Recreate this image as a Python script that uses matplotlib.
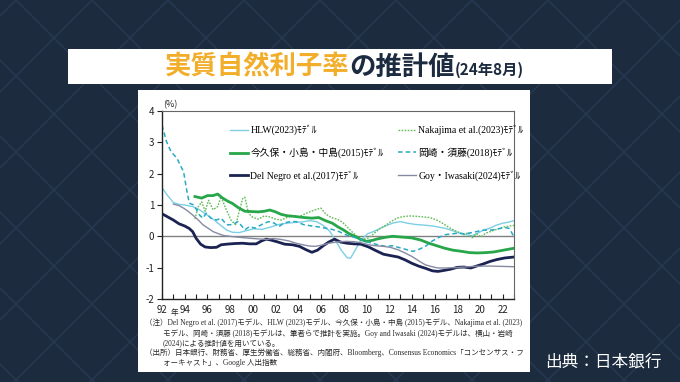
import matplotlib
matplotlib.use("Agg")
import matplotlib.pyplot as plt
from matplotlib.patches import Rectangle
from matplotlib.ticker import FixedLocator, NullFormatter

plt.rcParams['font.family'] = ['Noto Sans CJK JP', 'DejaVu Sans']
SERIF = ['Liberation Serif', 'Noto Sans CJK JP']

# --- data (% per year) ---
hlw_year = [1992.0, 1992.5, 1993.0, 1993.5, 1994.0, 1994.7, 1995.3, 1995.9, 1996.6, 1997.1,
            1997.7, 1998.2, 1998.8, 1999.4, 2000.1, 2000.8, 2001.6, 2002.3, 2003.0, 2003.6,
            2004.3, 2005.0, 2005.6, 2006.2, 2006.8, 2007.3, 2007.8, 2008.3, 2008.6, 2009.0,
            2009.5, 2010.1, 2010.6, 2011.2, 2011.8, 2012.4, 2013.0, 2013.6, 2014.3, 2015.0,
            2015.6, 2016.3, 2017.0, 2017.6, 2018.2, 2018.8, 2019.3, 2019.8, 2020.3, 2020.8,
            2021.4, 2022.0, 2022.5, 2023.0]
hlw_val = [1.55, 1.30, 1.08, 1.02, 1.00, 0.95, 0.85, 0.70, 0.52, 0.37,
           0.20, 0.13, 0.12, 0.18, 0.24, 0.22, 0.30, 0.38, 0.42, 0.44,
           0.46, 0.50, 0.47, 0.35, 0.15, -0.15, -0.45, -0.68, -0.70, -0.45,
           -0.13, 0.08, 0.15, 0.25, 0.35, 0.43, 0.47, 0.42, 0.38, 0.36,
           0.34, 0.30, 0.25, 0.18, 0.10, 0.05, 0.02, 0.10, 0.20, 0.25,
           0.35, 0.42, 0.45, 0.50]

nakajima_year = [1994.9, 1995.2, 1995.5, 1995.8, 1996.1, 1996.5, 1996.9, 1997.2, 1997.6, 1998.1,
                 1998.5, 1998.8, 1999.1, 1999.3, 1999.6, 2000.0, 2000.5, 2001.0, 2001.5, 2002.0,
                 2002.5, 2003.0, 2003.5, 2004.0, 2004.5, 2005.0, 2005.5, 2006.0, 2006.4, 2006.9,
                 2007.4, 2007.9, 2008.3, 2008.8, 2009.2, 2009.7, 2010.2, 2010.7, 2011.2, 2011.7,
                 2012.2, 2012.7, 2013.2, 2013.8, 2014.4, 2015.0, 2015.6, 2016.2, 2016.7, 2017.2,
                 2017.7, 2018.2, 2018.6, 2019.0, 2019.3, 2019.7, 2020.1, 2020.5, 2020.9, 2021.3,
                 2021.7, 2022.1, 2022.5, 2023.0]
nakajima_val = [0.55, 0.95, 1.10, 0.80, 1.15, 0.85, 0.95, 1.27, 0.90, 0.50,
                0.37, 0.80, 1.20, 1.25, 0.75, 0.60, 0.55, 0.65, 0.62, 0.55,
                0.52, 0.60, 0.65, 0.62, 0.70, 0.78, 0.85, 0.90, 0.72, 0.60,
                0.55, 0.45, 0.30, 0.12, 0.00, -0.10, -0.05, 0.10, 0.25, 0.35,
                0.48, 0.58, 0.63, 0.65, 0.64, 0.62, 0.60, 0.52, 0.42, 0.30,
                0.20, 0.12, 0.05, 0.12, -0.05, 0.08, -0.02, 0.10, 0.15, 0.20,
                0.25, 0.30, 0.32, 0.35]

imakubo_year = [1994.9, 1995.5, 1996.0, 1996.5, 1996.9, 1997.3, 1997.8, 1998.2, 1998.7, 1999.3,
                1999.9, 2000.5, 2001.0, 2001.5, 2002.0, 2002.5, 2003.0, 2003.8, 2004.5, 2005.2,
                2005.8, 2006.4, 2007.0, 2007.5, 2008.0, 2008.5, 2009.0, 2009.5, 2010.0, 2010.5,
                2011.0, 2011.7, 2012.3, 2013.0, 2014.0, 2014.8, 2015.5, 2016.2, 2016.9, 2017.6,
                2018.4, 2019.1, 2019.8, 2020.5, 2021.2, 2021.8, 2022.4, 2023.0]
imakubo_val = [1.27, 1.22, 1.30, 1.30, 1.35, 1.23, 1.12, 1.05, 0.92, 0.80,
               0.79, 0.78, 0.80, 0.84, 0.78, 0.70, 0.66, 0.63, 0.60, 0.58,
               0.60, 0.50, 0.42, 0.30, 0.20, 0.08, 0.00, -0.10, -0.16, -0.13,
               -0.08, -0.03, 0.00, -0.02, -0.05, -0.12, -0.22, -0.30, -0.38, -0.44,
               -0.48, -0.52, -0.53, -0.52, -0.50, -0.46, -0.42, -0.38]

okazaki_year = [1992.0, 1992.4, 1992.8, 1993.3, 1993.9, 1994.2, 1994.4, 1994.8, 1995.3, 1995.6,
                1995.9, 1996.3, 1996.8, 1997.2, 1997.7, 1998.2, 1998.7, 1999.3, 1999.7, 2000.2,
                2000.9, 2001.4, 2001.9, 2002.3, 2002.7, 2003.3, 2003.8, 2004.5, 2005.2, 2005.8,
                2006.4, 2007.0, 2007.6, 2008.2, 2008.8, 2009.4, 2009.9, 2010.5, 2011.0, 2011.7,
                2012.3, 2012.8, 2013.5, 2014.1, 2014.6, 2015.2, 2015.8, 2016.3, 2016.9, 2017.5,
                2018.1, 2018.7, 2019.3, 2019.8, 2020.4, 2021.0, 2021.6, 2022.2, 2022.6, 2023.0]
okazaki_val = [3.55, 3.02, 2.70, 2.50, 2.06, 1.43, 1.06, 1.00, 0.68, 0.58,
               0.74, 0.58, 0.52, 0.58, 0.37, 0.37, 0.47, 0.21, 0.31, 0.26,
               0.40, 0.47, 0.42, 0.31, 0.42, 0.47, 0.47, 0.37, 0.33, 0.30,
               0.26, 0.22, 0.15, 0.05, -0.02, -0.08, -0.16, -0.22, -0.27, -0.32,
               -0.30, -0.35, -0.42, -0.48, -0.42, -0.32, -0.15, -0.05, 0.05, 0.08,
               0.10, 0.08, 0.12, 0.16, 0.20, 0.20, 0.24, 0.28, 0.25, -0.02]

delnegro_year = [1992.0, 1992.5, 1993.0, 1993.5, 1994.0, 1994.4, 1994.7, 1995.0, 1995.4, 1995.8,
                 1996.3, 1996.8, 1997.2, 1997.7, 1998.4, 1999.1, 1999.7, 2000.3, 2000.8, 2001.2,
                 2001.6, 2002.2, 2002.8, 2003.5, 2004.1, 2004.7, 2005.2, 2005.7, 2006.2, 2006.7,
                 2007.2, 2007.7, 2008.3, 2008.9, 2009.5, 2010.2, 2010.8, 2011.5, 2012.2, 2012.8,
                 2013.4, 2014.0, 2014.6, 2015.2, 2015.8, 2016.3, 2016.8, 2017.4, 2018.0, 2018.6,
                 2019.2, 2019.7, 2020.3, 2020.9, 2021.5, 2022.2, 2023.0]
delnegro_val = [0.72, 0.62, 0.52, 0.40, 0.33, 0.25, 0.15, -0.06, -0.25, -0.34,
                -0.36, -0.35, -0.27, -0.25, -0.23, -0.22, -0.24, -0.24, -0.14, -0.09,
                -0.12, -0.18, -0.25, -0.27, -0.32, -0.43, -0.51, -0.44, -0.30, -0.18,
                -0.09, -0.18, -0.22, -0.24, -0.25, -0.34, -0.45, -0.57, -0.62, -0.66,
                -0.75, -0.86, -0.95, -1.02, -1.10, -1.12, -1.09, -1.05, -0.99, -0.98,
                -1.01, -0.95, -0.88, -0.80, -0.74, -0.69, -0.66]

goy_year = [1993.0, 1993.5, 1993.9, 1994.3, 1994.7, 1995.2, 1995.6, 1996.1, 1996.5, 1997.0,
            1997.4, 1998.0, 1998.5, 1999.1, 1999.7, 2000.4, 2001.2, 2001.8, 2002.5, 2003.2,
            2003.8, 2004.4, 2005.0, 2005.5, 2006.1, 2006.7, 2007.4, 2008.2, 2008.9, 2009.5,
            2010.2, 2010.8, 2011.5, 2012.1, 2012.8, 2013.4, 2014.0, 2014.6, 2015.2, 2015.8,
            2016.3, 2017.0, 2017.8, 2018.6, 2019.4, 2020.2, 2021.0, 2022.0, 2023.0]
goy_val = [1.03, 0.98, 0.90, 0.80, 0.68, 0.52, 0.37, 0.25, 0.15, 0.08,
           0.03, 0.00, -0.02, -0.04, -0.06, -0.08, -0.10, -0.07, -0.10, -0.15,
           -0.22, -0.27, -0.31, -0.32, -0.28, -0.22, -0.18, -0.16, -0.17, -0.20,
           -0.27, -0.30, -0.32, -0.35, -0.43, -0.53, -0.64, -0.78, -0.91, -0.97,
           -1.01, -1.01, -1.00, -0.98, -0.96, -0.95, -0.95, -0.96, -0.97]

x_tick_years = list(range(1992, 2023, 2))
x_tick_labels = ['92', '94', '96', '98', '00', '02', '04', '06', '08', '10',
                 '12', '14', '16', '18', '20', '22']
y_ticks = [-2, -1, 0, 1, 2, 3, 4]
y_tick_labels = ['-2', '-1', '0', '1', '2', '3', '4']

notes = [
    "（注）Del Negro et al. (2017)モデル、HLW (2023)モデル、今久保・小島・中島 (2015)モデル、Nakajima et al. (2023)",
    "モデル、岡崎・須藤 (2018)モデルは、筆者らで推計を実施。Goy and Iwasaki (2024)モデルは、横山・岩崎",
    "(2024)による推計値を用いている。",
    "（出所）日本銀行、財務省、厚生労働省、総務省、内閣府、Bloomberg、Consensus Economics「コンセンサス・フ",
    "ォーキャスト」、Google 人出指数",
]

W, H = 680, 382
fig = plt.figure(figsize=(W / 100, H / 100), dpi=100)
fig.patch.set_facecolor('#1c2b3e')

# background layer in pixel coordinates (diamond lattice)
bg = fig.add_axes([0, 0, 1, 1], zorder=0)
bg.set_xlim(0, W)
bg.set_ylim(H, 0)
bg.axis('off')
bg.set_facecolor('none')
for c in range(-440, 1140, 76):
    bg.plot([c, c + H], [0, H], color='#26384f', lw=1.3, zorder=0)
    bg.plot([c, c - H], [0, H], color='#26384f', lw=1.3, zorder=0)

# title box
bg.add_patch(Rectangle((68, 49), 544, 35, facecolor='white', edgecolor='none', zorder=1))
t1 = bg.text(165, 67, "実質自然利子率", fontsize=19, fontweight='bold', color='#f2ae2a',
             va='center', ha='left', zorder=2)
t2 = bg.annotate("の推計値", xy=(1, 0), xycoords=t1, fontsize=19, fontweight='bold',
                 color='#1c2b40', va='bottom', ha='left', zorder=2)
bg.annotate("(24年8月)", xy=(1, 0.08), xycoords=t2, fontsize=11, fontweight='bold',
            color='#1c2b40', va='bottom', ha='left', zorder=2)

# chart panel
bg.add_patch(Rectangle((138, 90), 392, 282, facecolor='white', edgecolor='none', zorder=1))
bg.text(163, 105, "(%)", fontsize=6.5, color='#222222', va='center', ha='left', zorder=2)
bg.text(174, 313, "年", fontsize=5.5, color='#222222', va='center', ha='center', zorder=2)

note_x = [145, 163, 163, 145, 163]
note_y = [323, 333.5, 343, 353, 363]
for tx, ty, s in zip(note_x, note_y, notes):
    bg.text(tx, ty, s, fontsize=5.45, family=SERIF, color='#2a2a2a',
            va='center', ha='left', zorder=2)

bg.text(545, 362, "出典：日本銀行", fontsize=12, color='white', va='center', ha='left', zorder=2)

# main chart
ax = fig.add_axes([162 / W, 1 - 299 / H, (514 - 162) / W, (299 - 111) / H], zorder=3)
ax.set_facecolor('none')

ax.axhline(0, color='#808080', lw=1.0, zorder=1)
l_hlw, = ax.plot(hlw_year, hlw_val, color='#7ccfe4', lw=1.0, label='HLW(2023)ﾓﾃﾞﾙ')
l_nak, = ax.plot(nakajima_year, nakajima_val, color='#62bb55', lw=1.0, ls=(0, (1.2, 1.0)),
                 label='Nakajima et al.(2023)ﾓﾃﾞﾙ')
l_ima, = ax.plot(imakubo_year, imakubo_val, color='#27a64a', lw=2.0,
                 label='今久保・小島・中島(2015)ﾓﾃﾞﾙ')
l_oka, = ax.plot(okazaki_year, okazaki_val, color='#27aac4', lw=1.1, ls=(0, (3, 2)),
                 label='岡崎・須藤(2018)ﾓﾃﾞﾙ')
l_del, = ax.plot(delnegro_year, delnegro_val, color='#1b2352', lw=2.0,
                 label='Del Negro et al.(2017)ﾓﾃﾞﾙ')
l_goy, = ax.plot(goy_year, goy_val, color='#868aa3', lw=1.0, label='Goy・Iwasaki(2024)ﾓﾃﾞﾙ')

ax.set_xlim(1992, 2023)
ax.set_ylim(-2, 4)
ax.xaxis.set_major_locator(FixedLocator(x_tick_years))
ax.xaxis.set_minor_locator(FixedLocator(list(range(1992, 2024))))
ax.xaxis.set_minor_formatter(NullFormatter())
ax.set_xticklabels(x_tick_labels)
ax.set_yticks(y_ticks)
ax.set_yticklabels(y_tick_labels)
ax.tick_params(axis='x', which='both', direction='in', length=3.5, width=0.8,
               labelsize=7, pad=4, colors='#222222')
ax.tick_params(axis='y', direction='out', length=3.5, width=0.8, labelsize=7,
               pad=2, colors='#222222')
for side in ['left', 'bottom']:
    ax.spines[side].set_color('#222222')
    ax.spines[side].set_linewidth(1.0)
for side in ['top', 'right']:
    ax.spines[side].set_color('#666666')
    ax.spines[side].set_linewidth(0.8)

handles = [l_hlw, l_ima, l_del, l_nak, l_oka, l_goy]
ax.legend(handles=handles, labels=[h.get_label() for h in handles], ncol=2,
          loc='upper left', bbox_to_anchor=(225 / W, 1 - 120 / H),
          bbox_transform=fig.transFigure, frameon=False, borderpad=0,
          prop={'family': SERIF, 'size': 7}, handlelength=1.9, handletextpad=0.2,
          columnspacing=1.5, labelspacing=1.25)

fig.savefig('out.png', dpi=100, facecolor=fig.get_facecolor())
